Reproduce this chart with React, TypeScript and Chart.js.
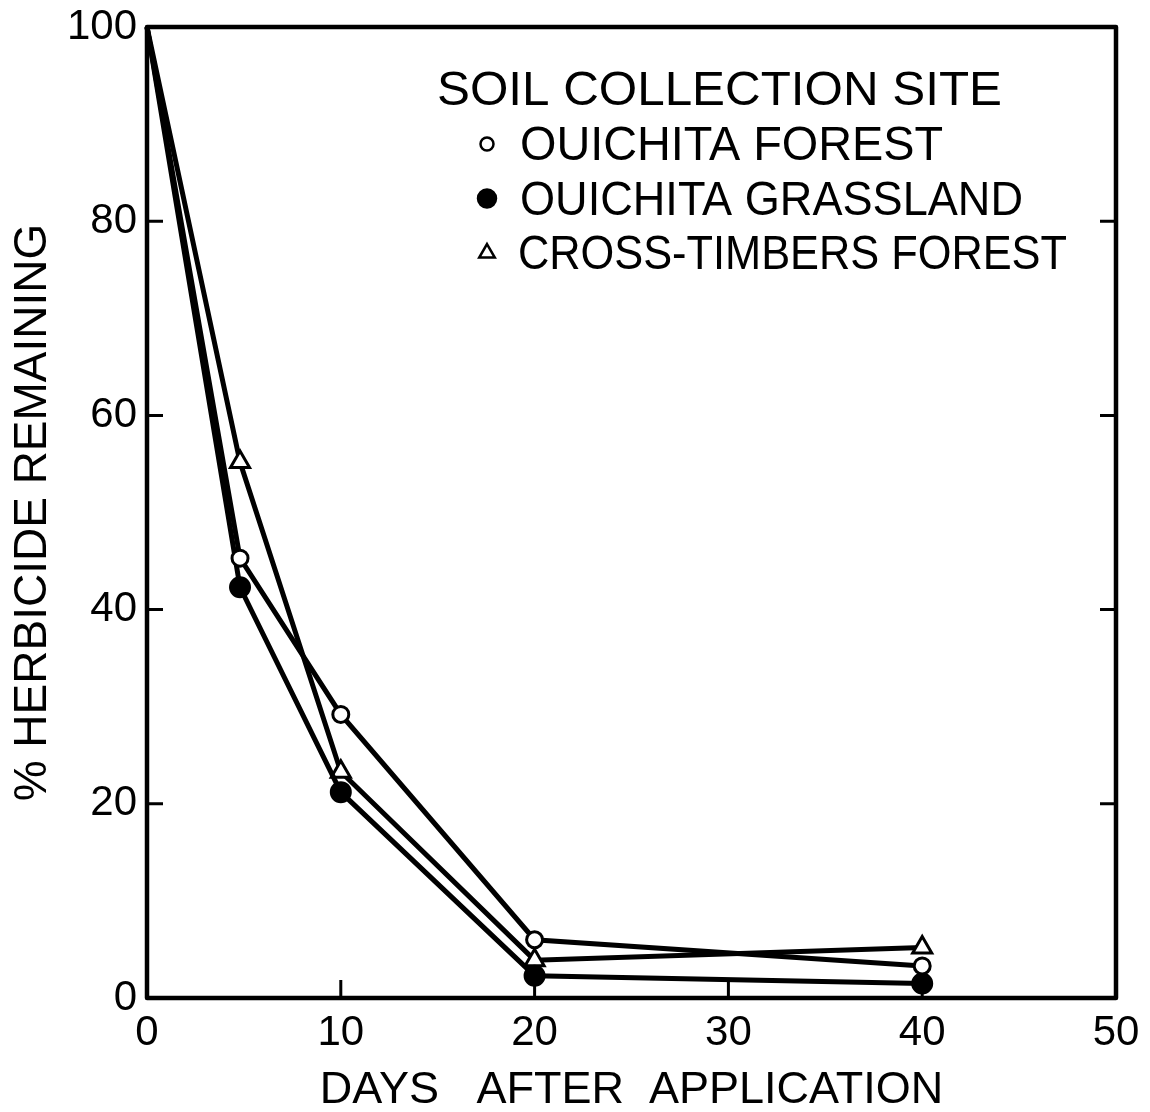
import React, { useEffect, useRef } from "react";
import { Chart, registerables } from "chart.js";

Chart.register(...registerables);

// ---- data ----
const days = [0, 4.8, 10, 20, 40];
const ouichitaForest = [100, 45.3, 29.2, 6.0, 3.3];
const ouichitaGrassland = [100, 42.3, 21.2, 2.3, 1.5];
const crossTimbersForest = [100, 55.2, 23.3, 3.9, 5.2];
const seriesLabels = ["OUICHITA FOREST", "OUICHITA GRASSLAND", "CROSS-TIMBERS FOREST"];
const xTickValues = [0, 10, 20, 30, 40, 50];
const yTickValues = [0, 20, 40, 60, 80, 100];
const legendTitle = "SOIL COLLECTION SITE";
const xTitle = "DAYS   AFTER  APPLICATION";
const yTitle = "% HERBICIDE REMAINING";

const FONT = '"Liberation Sans", Arial, sans-serif';

function drawMarker(ctx: CanvasRenderingContext2D, style: string, filled: boolean, x: number, y: number, r: number, lw: number) {
  ctx.beginPath();
  if (style === "triangle") {
    let rad = 0;
    ctx.moveTo(x + Math.sin(rad) * r, y - Math.cos(rad) * r);
    rad += (2 * Math.PI) / 3;
    ctx.lineTo(x + Math.sin(rad) * r, y - Math.cos(rad) * r);
    rad += (2 * Math.PI) / 3;
    ctx.lineTo(x + Math.sin(rad) * r, y - Math.cos(rad) * r);
    ctx.closePath();
  } else {
    ctx.arc(x, y, r, 0, Math.PI * 2);
  }
  ctx.fillStyle = filled ? "#000" : "#fff";
  ctx.fill();
  ctx.lineWidth = lw;
  ctx.strokeStyle = "#000";
  ctx.stroke();
}

function fitText(ctx: CanvasRenderingContext2D, text: string, x: number, y: number, width: number) {
  const m = ctx.measureText(text).width;
  const s = width / m;
  ctx.save();
  ctx.translate(x, y);
  ctx.scale(s, 1);
  ctx.fillText(text, 0, 0);
  ctx.restore();
}

const framePlugin = {
  id: "frameTicks",
  afterDatasetsDraw(chart: any) {
    const { ctx, chartArea, scales } = chart;
    const { left, right, top, bottom } = chartArea;
    const x = scales.x;
    const y = scales.y;
    ctx.save();
    ctx.strokeStyle = "#000";
    ctx.lineJoin = "round";
    ctx.lineWidth = 4.5;
    ctx.strokeRect(left, top, right - left, bottom - top);
    ctx.lineWidth = 3;
    ctx.beginPath();
    for (const v of xTickValues) {
      if (v > x.min && v < x.max) {
        const px = x.getPixelForValue(v);
        ctx.moveTo(px, bottom);
        ctx.lineTo(px, bottom - 18);
      }
    }
    for (const v of yTickValues) {
      if (v > y.min && v < y.max) {
        const py = y.getPixelForValue(v);
        ctx.moveTo(left, py);
        ctx.lineTo(left + 16, py);
        ctx.moveTo(right, py);
        ctx.lineTo(right - 16, py);
      }
    }
    ctx.stroke();
    ctx.restore();
  },
};

const legendPlugin = {
  id: "insideLegend",
  afterDraw(chart: any) {
    const { ctx } = chart;
    ctx.save();
    ctx.fillStyle = "#000";
    ctx.textBaseline = "middle";
    ctx.textAlign = "left";
    ctx.font = `48px ${FONT}`;
    fitText(ctx, legendTitle, 429, 84, 565);
    ctx.font = `48px ${FONT}`;
    const markerSizes = [6.5, 9, 9];
    const itemWidths = [423, 503, 549];
    chart.data.datasets.forEach((ds: any, i: number) => {
      const cy = 136 + i * 54.5;
      const filled = ds.pointBackgroundColor === "#000";
      drawMarker(ctx, ds.pointStyle, filled, 479, cy, markerSizes[i], 2.5);
      ctx.fillStyle = "#000";
      fitText(ctx, ds.label, i === 2 ? 510 : 512, cy + 3, itemWidths[i]);
    });
    ctx.restore();
  },
};

function makeDataset(label: string, values: number[], pointStyle: string, filled: boolean, radius: number) {
  return {
    label,
    data: days.map((d, i) => ({ x: d, y: values[i] })),
    borderColor: "#000",
    borderWidth: 5,
    tension: 0,
    pointStyle,
    pointRadius: days.map((d) => (d === 0 ? 0 : radius)),
    pointBackgroundColor: filled ? "#000" : "#fff",
    pointBorderColor: "#000",
    pointBorderWidth: 3,
    clip: false,
  };
}

export default function App() {
  const canvasRef = useRef<HTMLCanvasElement | null>(null);

  useEffect(() => {
    if (!canvasRef.current) return;
    const chart = new Chart(canvasRef.current, {
      type: "line",
      data: {
        datasets: [
          makeDataset(seriesLabels[0], ouichitaForest, "circle", false, 8),
          makeDataset(seriesLabels[1], ouichitaGrassland, "circle", true, 9.5),
          makeDataset(seriesLabels[2], crossTimbersForest, "triangle", false, 11),
        ] as any,
      },
      options: {
        responsive: false,
        animation: false,
        devicePixelRatio: 1,
        layout: { padding: { top: 19, right: 26, left: 0, bottom: 0 } },
        plugins: {
          legend: { display: false },
          tooltip: { enabled: false },
        },
        scales: {
          x: {
            type: "linear",
            min: 0,
            max: 50,
            grid: { display: false, drawTicks: false },
            border: { display: false },
            ticks: {
              stepSize: 10,
              padding: 10,
              color: "#000",
              maxRotation: 0,
              autoSkip: false,
              font: { family: FONT, size: 42 },
            },
            title: {
              display: true,
              text: xTitle,
              color: "#000",
              font: { family: FONT, size: 45, lineHeight: 0.6 },
              padding: { top: 0, bottom: 0 },
            },
            afterFit(s: any) {
              s.height = 106;
              s.paddingLeft = 0;
              s.paddingRight = 0;
            },
          },
          y: {
            type: "linear",
            min: 0,
            max: 100,
            grid: { display: false, drawTicks: false },
            border: { display: false },
            ticks: {
              stepSize: 20,
              padding: 10,
              color: "#000",
              autoSkip: false,
              font: { family: FONT, size: 42 },
            },
            title: {
              display: true,
              text: yTitle,
              color: "#000",
              font: { family: FONT, size: 46, lineHeight: 1 },
              padding: { top: 2, bottom: 0 },
            },
            afterFit(s: any) {
              s.width = 139;
              s.paddingTop = 0;
              s.paddingBottom = 0;
            },
          },
        },
      } as any,
      plugins: [framePlugin, legendPlugin],
    });
    return () => chart.destroy();
  }, []);

  return <canvas ref={canvasRef} width={1134} height={1096} />;
}
